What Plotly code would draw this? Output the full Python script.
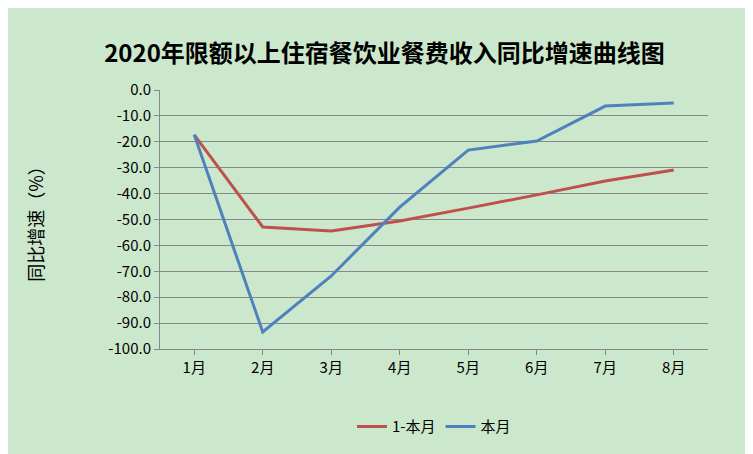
import plotly.graph_objects as go

months = ["1月", "2月", "3月", "4月", "5月", "6月", "7月", "8月"]
cumulative = [-17.3, -52.9, -54.4, -50.6, -45.6, -40.5, -35.1, -30.9]
monthly = [-17.3, -93.4, -71.8, -45.2, -23.2, -19.7, -6.2, -5.0]
yticks = [0, -10, -20, -30, -40, -50, -60, -70, -80, -90, -100]

bg = "#cce8cc"
fig = go.Figure()
fig.add_trace(go.Scatter(x=months, y=cumulative, name="1-本月", mode="lines",
                         line=dict(color="#c0504d", width=3)))
fig.add_trace(go.Scatter(x=months, y=monthly, name="本月", mode="lines",
                         line=dict(color="#4f81bd", width=3)))
fig.update_layout(
    width=753, height=454,
    paper_bgcolor=bg, plot_bgcolor=bg,
    margin=dict(l=152, r=53, t=82, b=113, autoexpand=False),
    font=dict(family="Noto Sans CJK SC", size=15, color="#000"),
    title=dict(text="<b>2020年限额以上住宿餐饮业餐费收入同比增速曲线图</b>",
               x=0.5, xanchor="center", y=0.9, yanchor="middle",
               font=dict(size=24)),
    legend=dict(orientation="h", x=0.5, xanchor="center", y=-0.3, yanchor="middle",
                font=dict(size=15)),
    xaxis=dict(type="category", range=[-0.5, 7.5], showgrid=False, automargin=False,
               showline=True, linecolor="#888", ticks="outside", ticklen=5,
               tickcolor="#888", tickfont=dict(size=15)),
    yaxis=dict(range=[-100, 0], tickvals=yticks, automargin=False,
               ticktext=[f"{v:.1f}" for v in yticks],
               showgrid=True, gridcolor="#888", gridwidth=1,
               showline=True, linecolor="#888", ticks="outside", ticklen=5,
               tickcolor="#888", zeroline=False, tickfont=dict(size=15),
               title=dict(text="同比增速（%）", font=dict(size=18), standoff=60)),
)
fig.write_html("out.html")
